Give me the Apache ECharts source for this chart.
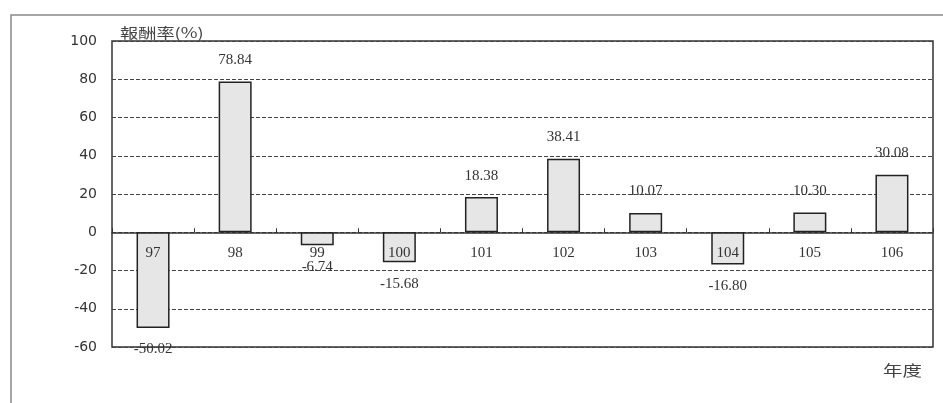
<!DOCTYPE html>
<html>
<head>
<meta charset="utf-8">
<script src="https://cdn.jsdelivr.net/npm/echarts@6/dist/echarts.min.js"></script>
<style>
html,body{margin:0;padding:0;background:#fff;}
#chart{width:943px;height:403px;}
</style>
</head>
<body>
<div id="chart"></div>
<script>
const categories = ['97','98','99','100','101','102','103','104','105','106'];
const returns = [-50.02, 78.84, -6.74, -15.68, 18.38, 38.41, 10.07, -16.80, 10.30, 30.08];
const yTicks = [-60, -40, -20, 0, 20, 40, 60, 80, 100];
const yTitle = '報酬率(%)';
const xTitle = '年度';

const chart = echarts.init(document.getElementById('chart'));
const serif = '"Liberation Serif", "Times New Roman", serif';
const gridTop = 41, gridBottom = 56, chartH = 403;
const yMin = yTicks[0], yMax = yTicks[yTicks.length - 1];
const plotH = chartH - gridTop - gridBottom;
const zeroOffset = -plotH * (0 - yMin) / (yMax - yMin);

chart.setOption({
  animation: false,
  backgroundColor: '#ffffff',
  grid: {left: 112, right: 10, top: gridTop, bottom: gridBottom, show: true, borderColor: '#333', borderWidth: 1.5, backgroundColor: 'transparent'},
  graphic: [
    {type: 'rect', shape: {x: 11, y: 15, width: 960, height: 420}, style: {fill: 'none', stroke: '#888', lineWidth: 1.5}, z: -1},
    {type: 'text', x: 120, y: 26, scaleX: 1.3, style: {text: yTitle, font: '14px "Noto Sans CJK TC", sans-serif', fill: '#444'}},
    {type: 'text', x: 883, y: 363, scaleX: 1.3, style: {text: xTitle, font: '15px "Noto Sans CJK TC", sans-serif', fill: '#444'}}
  ],
  xAxis: [{
    type: 'category',
    data: categories,
    axisLine: {onZero: true, lineStyle: {color: '#333', width: 1.5}},
    axisTick: {show: true, inside: true, length: 4, lineStyle: {color: '#333'}},
    axisLabel: {show: false},
    splitLine: {show: false}
  }, {
    type: 'category',
    data: categories,
    position: 'bottom',
    offset: zeroOffset,
    axisLine: {show: false, onZero: false},
    axisTick: {show: false},
    axisLabel: {margin: 13, fontFamily: serif, fontSize: 15, color: '#333'},
    splitLine: {show: false},
    z: 5
  }],
  yAxis: {
    type: 'value',
    min: yMin,
    max: yMax,
    interval: 20,
    axisLine: {show: false},
    axisTick: {show: false},
    axisLabel: {margin: 15, fontFamily: '"DejaVu Sans", sans-serif', fontSize: 14, color: '#333'},
    splitLine: {show: true, lineStyle: {color: '#444', type: [4, 2], width: 1}}
  },
  series: [{
    type: 'bar',
    barWidth: 33,
    data: returns.map(v => ({value: v, label: {position: v >= 0 ? 'top' : 'bottom'}})),
    itemStyle: {color: '#e6e6e6', borderColor: '#222', borderWidth: 1.5},
    label: {
      show: true,
      distance: 14,
      fontFamily: serif,
      fontSize: 15,
      color: '#333',
      formatter: p => p.value.toFixed(2)
    }
  }]
});
</script>
</body>
</html>
